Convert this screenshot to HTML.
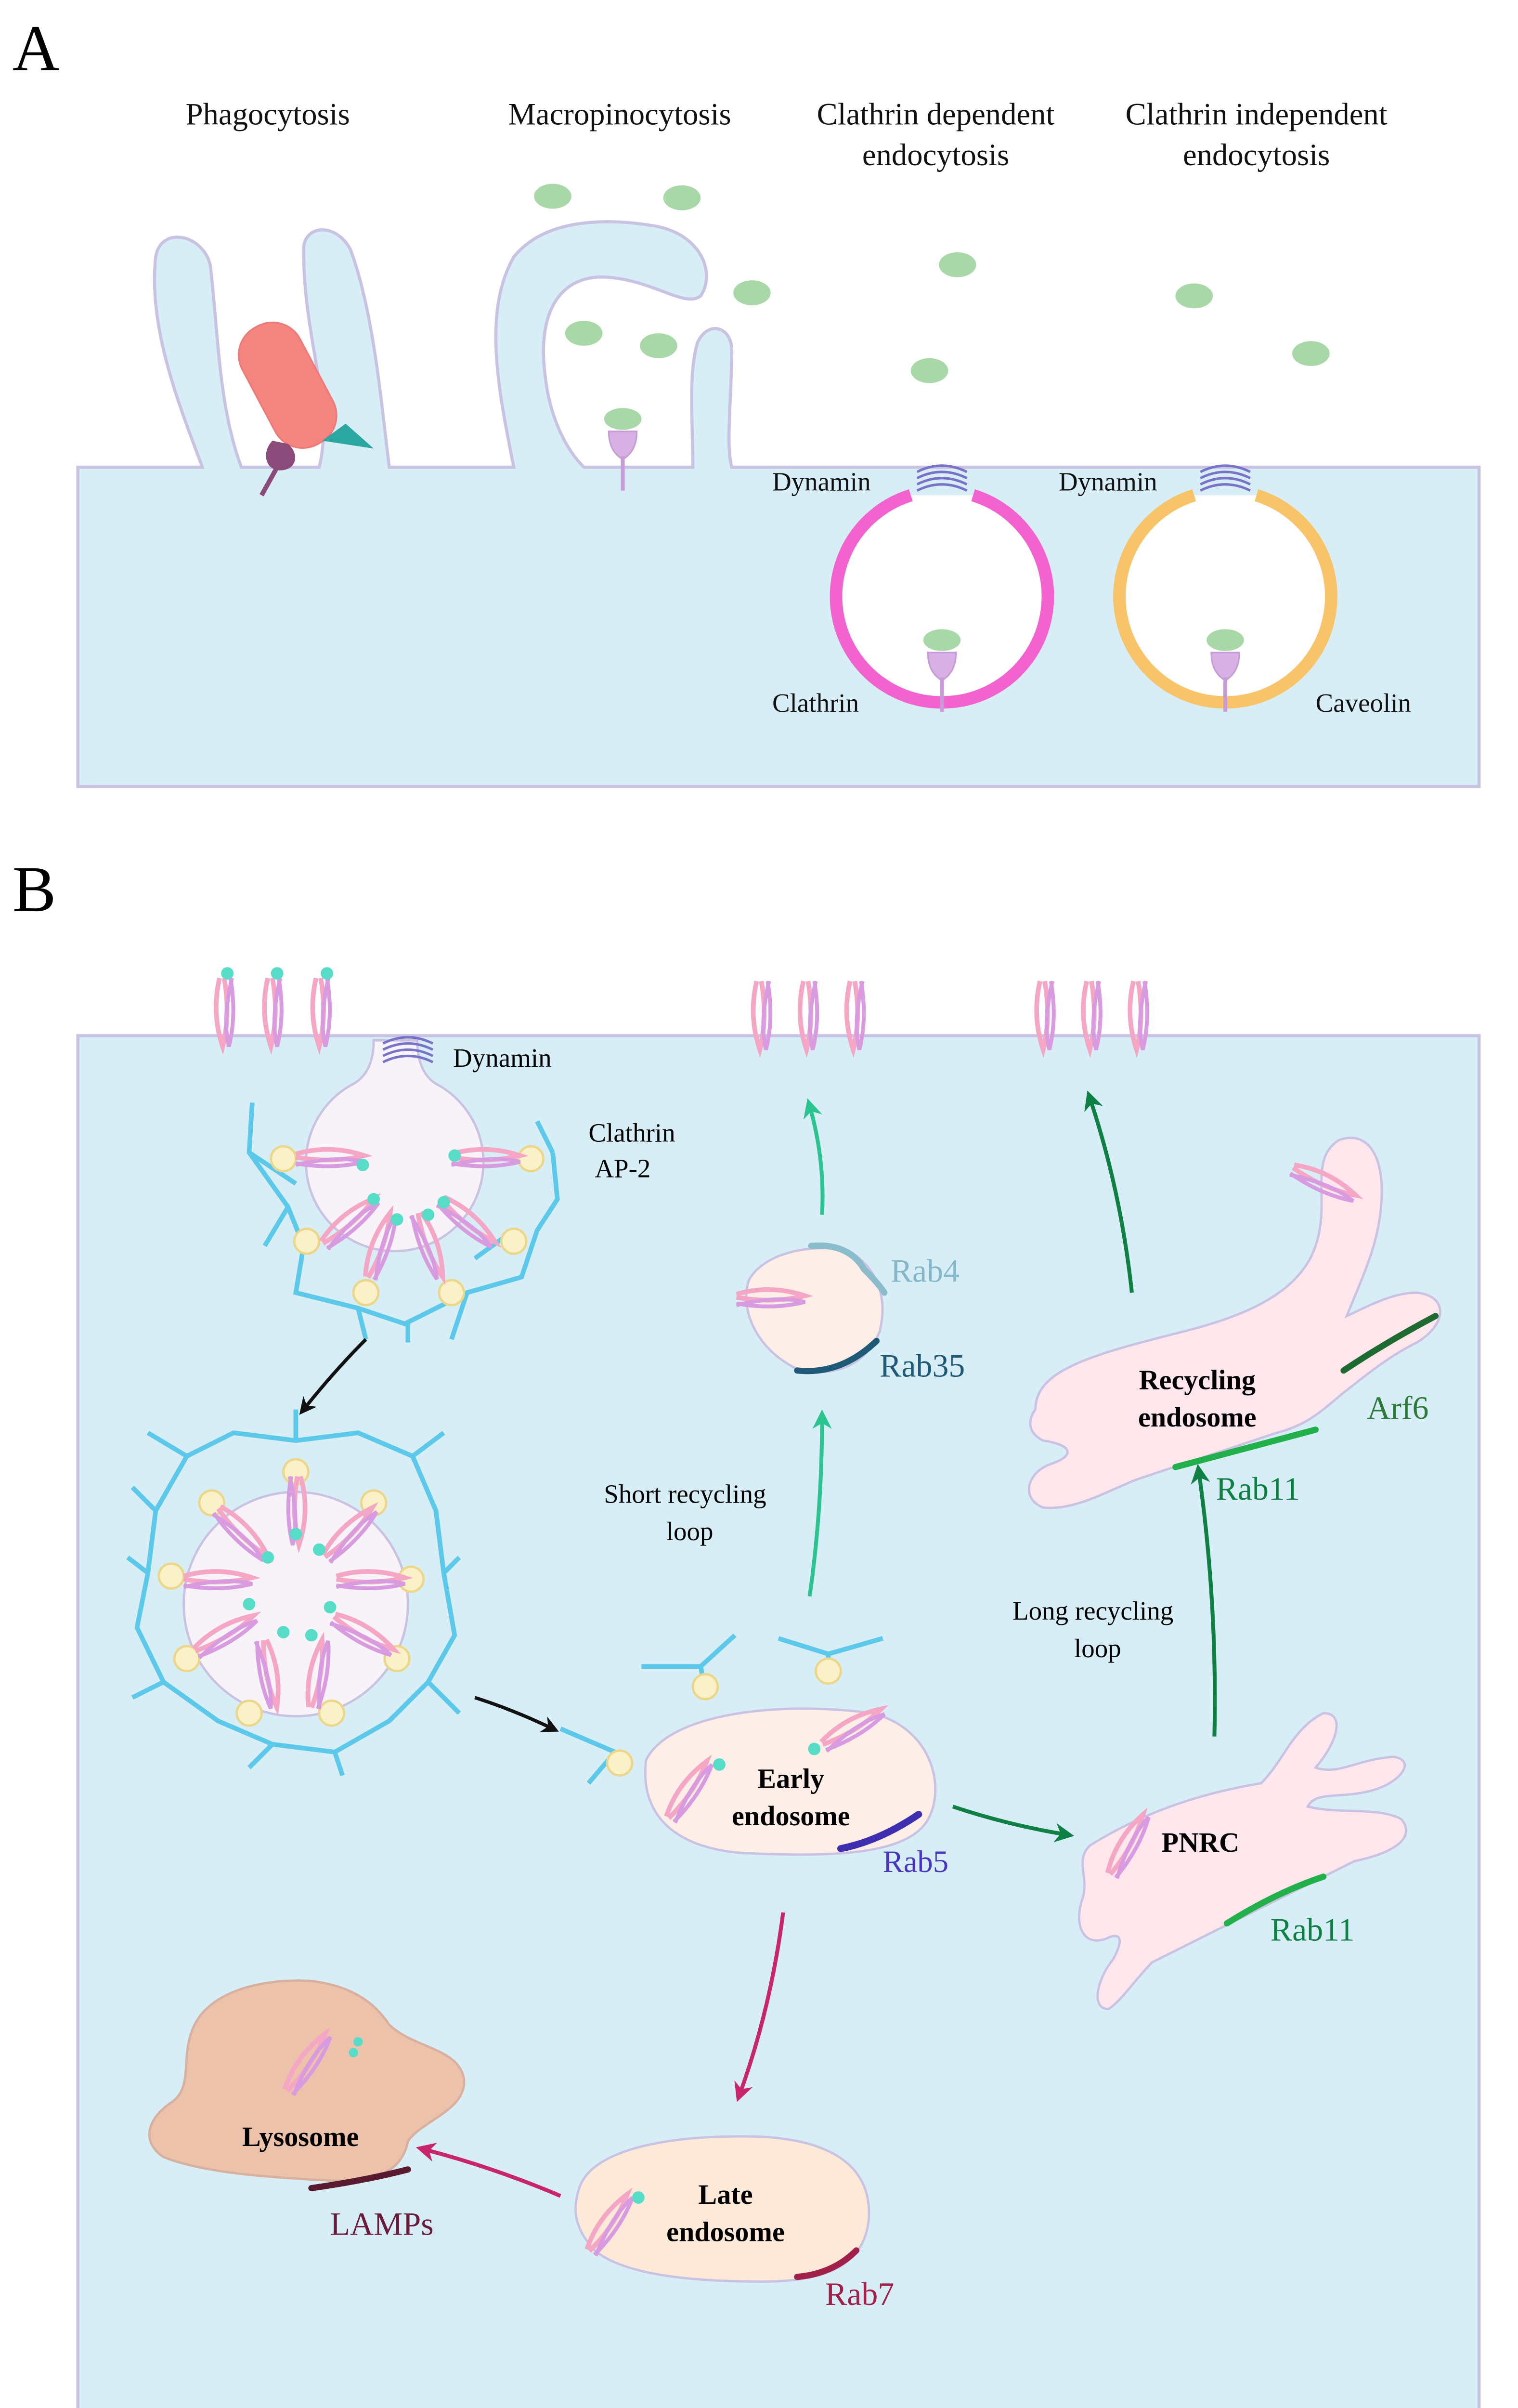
<!DOCTYPE html>
<html><head><meta charset="utf-8"><style>
html,body{margin:0;padding:0;background:#fff;width:3153px;height:5101px;overflow:hidden;}
svg{display:block;}
text{font-family:"Liberation Serif",serif;}
</style></head><body>
<svg width="3153" height="5101" viewBox="0 0 975 1577.4" xmlns="http://www.w3.org/2000/svg">
<defs>
<g id="rec">
 <path d="M-4,-22 C-8,-5 -6,10 -2,22 C1,10 2,-5 -1,-22" fill="none" stroke="#f4a6c4" stroke-width="3"/>
 <path d="M3,-22 C6,-5 5,10 2,22 C-1,10 0,-5 4,-22" fill="none" stroke="#d99be0" stroke-width="2.5"/>
</g>
<g id="recH">
 <path d="M-22,-3 C-5,-8 10,-6 22,-2 C10,1 -5,2 -22,-1" fill="none" stroke="#f4a6c4" stroke-width="3"/>
 <path d="M-22,3 C-5,6 10,5 22,2 C10,-1 -5,0 -22,4" fill="none" stroke="#d99be0" stroke-width="2.5"/>
</g>
<g id="lollipop">
 <ellipse cx="0" cy="-14" rx="12" ry="7" fill="#a8d8a8"/>
 <path d="M-9,-6 C-9,6 -3,10 0,12 C3,10 9,6 9,-6 Z" fill="#d7b1e3" stroke="#c79ad8" stroke-width="1"/>
 <line x1="0" y1="10" x2="0" y2="32" stroke="#c79ad8" stroke-width="2.5"/>
</g>
<g id="dyn">
 <path d="M-16,0 Q0,-8 16,0 M-16,4 Q0,-4 16,4 M-16,8 Q0,0 16,8 M-16,12 Q0,4 16,12" fill="none" stroke="#7a72c8" stroke-width="1.6"/>
</g>
<g id="ap"><circle r="8" fill="#fbf1c8" stroke="#ecd68a" stroke-width="1.5"/></g>
<marker id="ak" viewBox="0 0 10 10" refX="6" refY="5" markerWidth="5" markerHeight="5" orient="auto"><path d="M0,0 L10,5 L0,10 L3,5z" fill="#111"/></marker>
<marker id="at" viewBox="0 0 10 10" refX="6" refY="5" markerWidth="5" markerHeight="5" orient="auto"><path d="M0,0 L10,5 L0,10 L3,5z" fill="#2cc48e"/></marker>
<marker id="ag" viewBox="0 0 10 10" refX="6" refY="5" markerWidth="5" markerHeight="5" orient="auto"><path d="M0,0 L10,5 L0,10 L3,5z" fill="#0f8044"/></marker>
<marker id="am" viewBox="0 0 10 10" refX="6" refY="5" markerWidth="5" markerHeight="5" orient="auto"><path d="M0,0 L10,5 L0,10 L3,5z" fill="#c8256a"/></marker>
</defs>

<text x="8" y="45" font-size="42">A</text>
<g font-size="20" text-anchor="middle" fill="#111">
<text x="172" y="80">Phagocytosis</text>
<text x="398" y="80">Macropinocytosis</text>
<text x="601" y="80">Clathrin dependent</text>
<text x="601" y="106">endocytosis</text>
<text x="807" y="80">Clathrin independent</text>
<text x="807" y="106">endocytosis</text>
</g>
<path d="M50,300 H130 C115,260 95,210 100,165 C103,145 130,150 135,170 C140,210 140,260 155,300 H205 C215,260 195,220 195,160 C195,145 215,142 225,160 C240,200 245,260 250,300 H330 C320,250 310,200 330,165 C350,140 390,140 420,145 C450,150 460,175 450,190 C440,198 420,180 390,178 C360,176 345,200 350,240 C353,270 365,290 375,300 H445 C445,270 442,240 448,220 C455,205 470,210 470,225 C470,255 466,285 470,300 H950 V505 H50 Z" fill="#d8eef7" stroke="#c9c2e2" stroke-width="2"/>
<g transform="rotate(-28 185 250)"><rect x="165" y="205" width="42" height="85" rx="20" fill="#f4857e" stroke="#e77" stroke-width="1"/></g>
<path d="M175,283 C168,290 170,302 180,302 C190,302 193,292 185,285 Z" fill="#8a4a7a"/>
<line x1="178" y1="300" x2="168" y2="318" stroke="#8a4a7a" stroke-width="3"/>
<path d="M207,283 L240,288 L222,272 Z" fill="#2ca6a0"/>
<g fill="#a8d8a8">
<ellipse cx="355" cy="126" rx="12" ry="8"/><ellipse cx="438" cy="127" rx="12" ry="8"/>
<ellipse cx="483" cy="188" rx="12" ry="8"/><ellipse cx="375" cy="214" rx="12" ry="8"/>
<ellipse cx="423" cy="222" rx="12" ry="8"/><ellipse cx="615" cy="170" rx="12" ry="8"/>
<ellipse cx="597" cy="238" rx="12" ry="8"/><ellipse cx="767" cy="190" rx="12" ry="8"/>
<ellipse cx="842" cy="227" rx="12" ry="8"/>
</g>
<use href="#lollipop" x="400" y="283"/>
<path d="M625,318 A68,68 0 1 1 585,318" fill="#fff" stroke="#f263cf" stroke-width="8"/>
<use href="#dyn" x="605" y="303"/>
<use href="#lollipop" x="605" y="425"/>
<path d="M807,318 A68,68 0 1 1 767,318" fill="#fff" stroke="#f7c46a" stroke-width="8"/>
<use href="#dyn" x="787" y="303"/>
<use href="#lollipop" x="787" y="425"/>
<g font-size="17" fill="#111">
<text x="496" y="315">Dynamin</text><text x="680" y="315">Dynamin</text>
<text x="496" y="457">Clathrin</text><text x="845" y="457">Caveolin</text>
</g>

<text x="8" y="585" font-size="42">B</text>
<rect x="50" y="665" width="900" height="887" fill="#d8eef7" stroke="#c9c2e2" stroke-width="2"/>
<g>
<use href="#rec" x="145" y="650"/><use href="#rec" x="176" y="650"/><use href="#rec" x="207" y="650"/>
<circle cx="146" cy="625" r="4" fill="#57dcc8"/><circle cx="178" cy="625" r="4" fill="#57dcc8"/><circle cx="210" cy="625" r="4" fill="#57dcc8"/>
<use href="#rec" x="490" y="652"/><use href="#rec" x="520" y="652"/><use href="#rec" x="550" y="652"/>
<use href="#rec" x="672" y="652"/><use href="#rec" x="702" y="652"/><use href="#rec" x="732" y="652"/>
</g>
<path d="M240,668 Q240,690 225,697 A57,57 0 1 0 282,697 Q268,690 268,668 Z" fill="#f7f3f8" stroke="#c9c2e2" stroke-width="1.5"/>
<use href="#dyn" x="262" y="670"/>
<text x="291" y="685" font-size="17">Dynamin</text>
<text x="378" y="733" font-size="17">Clathrin</text>
<text x="382" y="756" font-size="17">AP-2</text>
<g fill="none" stroke="#5cc8ea" stroke-width="3">
<path d="M162,708 L160,740 L190,760 M160,740 L185,775 L195,800 L190,830 L230,840 L260,850 L300,830 L335,820 L345,790 L358,770 L355,740 M330,790 L305,808 M345,720 L355,740"/>
<path d="M185,775 L170,800 M230,840 L235,860 M300,830 L290,860 M262,850 L262,862"/>
</g>
<g>
<use href="#ap" x="182" y="744"/><use href="#ap" x="341" y="744"/><use href="#ap" x="197" y="797"/><use href="#ap" x="330" y="797"/>
<use href="#ap" x="235" y="830"/><use href="#ap" x="290" y="830"/>
<use href="#recH" x="212" y="744"/><use href="#recH" x="312" y="744"/>
<g transform="rotate(-40 225 785)"><use href="#recH" x="225" y="785"/></g>
<g transform="rotate(40 300 785)"><use href="#recH" x="300" y="785"/></g>
<g transform="rotate(-70 245 800)"><use href="#recH" x="245" y="800"/></g>
<g transform="rotate(70 275 800)"><use href="#recH" x="275" y="800"/></g>
<circle cx="233" cy="748" r="4" fill="#57dcc8"/><circle cx="292" cy="742" r="4" fill="#57dcc8"/>
<circle cx="255" cy="783" r="4" fill="#57dcc8"/><circle cx="275" cy="780" r="4" fill="#57dcc8"/>
<circle cx="240" cy="770" r="4" fill="#57dcc8"/><circle cx="285" cy="772" r="4" fill="#57dcc8"/>
</g>
<path d="M235,860 Q215,880 195,905" fill="none" stroke="#111" stroke-width="2.2" marker-end="url(#ak)"/>
<circle cx="190" cy="1030" r="72" fill="#f7f3f8" stroke="#c9c2e2" stroke-width="1.5"/>
<g fill="none" stroke="#5cc8ea" stroke-width="3">
<path d="M120,935 L150,920 L190,925 L230,920 L265,935 L280,970 L285,1010 L292,1050 L275,1080 L250,1105 L215,1125 L175,1120 L140,1105 L105,1080 L88,1045 L95,1010 L100,970 L120,935 Z"/>
<path d="M95,920 L120,935 M190,925 L190,905 M265,935 L285,920 M285,1010 L295,1000 M275,1080 L295,1100 M215,1125 L220,1140 M175,1120 L160,1135 M105,1080 L85,1090 M95,1010 L82,1000 M100,970 L85,955"/>
</g>
<g>
<use href="#ap" x="190" y="945"/><use href="#ap" x="240" y="965"/><use href="#ap" x="136" y="965"/>
<use href="#ap" x="264" y="1014"/><use href="#ap" x="110" y="1012"/><use href="#ap" x="255" y="1065"/>
<use href="#ap" x="120" y="1065"/><use href="#ap" x="213" y="1100"/><use href="#ap" x="160" y="1100"/>
<g transform="rotate(90 190 970)"><use href="#recH" x="190" y="970"/></g>
<g transform="rotate(45 155 985)"><use href="#recH" x="155" y="985"/></g>
<g transform="rotate(-45 225 985)"><use href="#recH" x="225" y="985"/></g>
<use href="#recH" x="140" y="1015"/><use href="#recH" x="238" y="1015"/>
<g transform="rotate(-30 145 1050)"><use href="#recH" x="145" y="1050"/></g>
<g transform="rotate(30 233 1050)"><use href="#recH" x="233" y="1050"/></g>
<g transform="rotate(80 172 1075)"><use href="#recH" x="172" y="1075"/></g>
<g transform="rotate(-80 205 1075)"><use href="#recH" x="205" y="1075"/></g>
<g fill="#57dcc8"><circle cx="172" cy="1000" r="4"/><circle cx="205" cy="995" r="4"/><circle cx="160" cy="1030" r="4"/><circle cx="212" cy="1032" r="4"/><circle cx="182" cy="1048" r="4"/><circle cx="200" cy="1050" r="4"/><circle cx="190" cy="985" r="4"/></g>
</g>
<path d="M305,1090 Q330,1098 355,1110" fill="none" stroke="#111" stroke-width="2.2" marker-end="url(#ak)"/>
<g fill="none" stroke="#5cc8ea" stroke-width="3">
<path d="M412,1070 L450,1070 L472,1050 M450,1070 L452,1080"/>
<path d="M500,1052 L532,1062 L567,1052 M532,1062 L532,1070"/>
<path d="M360,1110 L395,1125 L378,1145 M395,1125 L397,1130"/>
</g>
<use href="#ap" x="453" y="1083"/><use href="#ap" x="532" y="1073"/><use href="#ap" x="398" y="1132"/>
<path d="M415,1130 C430,1100 500,1092 560,1100 C600,1110 608,1150 595,1170 C580,1192 530,1192 480,1190 C440,1188 410,1170 415,1130 Z" fill="#fdeee8" stroke="#c9c2e2" stroke-width="1.5"/>
<path d="M540,1187 Q565,1182 590,1165" fill="none" stroke="#3d2fb0" stroke-width="4.5" stroke-linecap="round"/>
<text x="567" y="1202" font-size="20" fill="#4a35c0">Rab5</text>
<text x="508" y="1148" font-size="18" font-weight="bold" text-anchor="middle">Early</text>
<text x="508" y="1172" font-size="18" font-weight="bold" text-anchor="middle">endosome</text>
<g transform="rotate(-55 443 1150)"><use href="#recH" x="443" y="1150"/></g>
<g transform="rotate(-30 548 1110)"><use href="#recH" x="548" y="1110"/></g>
<circle cx="462" cy="1133" r="4" fill="#57dcc8"/><circle cx="523" cy="1123" r="4" fill="#57dcc8"/>
<path d="M520,1025 Q528,970 528,910" fill="none" stroke="#2cc48e" stroke-width="2.5" marker-end="url(#at)"/>
<text x="440" y="965" font-size="17" text-anchor="middle">Short recycling</text>
<text x="443" y="989" font-size="17" text-anchor="middle">loop</text>
<path d="M481,822 C490,805 520,798 545,803 C565,815 570,835 565,855 C555,880 530,885 510,878 C485,865 475,840 481,822 Z" fill="#fdeee8" stroke="#c9c2e2" stroke-width="1.5"/>
<path d="M521,800 Q545,798 555,815 Q565,825 568,830" fill="none" stroke="#8abccc" stroke-width="4" stroke-linecap="round"/>
<path d="M512,880 Q540,883 563,861" fill="none" stroke="#1e5a78" stroke-width="4" stroke-linecap="round"/>
<text x="572" y="823" font-size="21" fill="#84b8c8">Rab4</text>
<text x="565" y="884" font-size="21" fill="#1e5a78">Rab35</text>
<use href="#recH" x="495" y="834"/>
<path d="M528,780 Q530,745 520,710" fill="none" stroke="#2cc48e" stroke-width="2.5" marker-end="url(#at)"/>
<path d="M612,1160 Q648,1172 685,1178" fill="none" stroke="#0f8044" stroke-width="2.5" marker-end="url(#ag)"/>
<path d="M700,1185 C740,1160 780,1150 810,1145 C825,1130 830,1110 850,1100 C865,1100 858,1120 845,1135 C860,1140 870,1130 895,1128 C910,1130 900,1145 880,1150 C860,1155 845,1150 840,1160 C860,1165 885,1160 900,1168 C910,1180 895,1190 870,1195 C850,1205 830,1215 800,1230 C780,1240 760,1250 740,1260 C730,1270 720,1285 712,1290 C700,1290 705,1270 715,1258 C722,1245 720,1240 710,1245 C695,1250 690,1235 695,1220 C700,1205 690,1195 700,1185 Z" fill="#fde6ec" stroke="#c9c2e2" stroke-width="1.5"/>
<path d="M788,1235 Q820,1215 850,1205" fill="none" stroke="#22b04a" stroke-width="4" stroke-linecap="round"/>
<text x="771" y="1189" font-size="18" font-weight="bold" text-anchor="middle">PNRC</text>
<text x="816" y="1246" font-size="21" fill="#0f8044">Rab11</text>
<g transform="rotate(-60 725 1185)"><use href="#recH" x="725" y="1185"/></g>
<path d="M780,1115 Q782,1030 770,945" fill="none" stroke="#0f8044" stroke-width="2.5" marker-end="url(#ag)"/>
<text x="702" y="1040" font-size="17" text-anchor="middle">Long recycling</text>
<text x="705" y="1064" font-size="17" text-anchor="middle">loop</text>
<path d="M665,905 C665,880 700,870 760,855 C800,845 835,830 845,800 C855,770 840,745 860,732 C880,725 890,745 887,775 C885,800 875,820 865,845 C880,838 895,830 910,830 C930,832 930,850 910,862 C890,872 875,885 862,895 C850,905 840,915 820,920 C790,930 760,940 730,950 C710,958 690,970 670,968 C655,962 660,945 675,940 C690,935 690,928 670,925 C660,920 660,912 665,905 Z" fill="#fde6ec" stroke="#c9c2e2" stroke-width="1.5"/>
<path d="M755,942 Q800,930 845,918" fill="none" stroke="#22b04a" stroke-width="4" stroke-linecap="round"/>
<path d="M863,880 Q890,862 922,845" fill="none" stroke="#1f6a30" stroke-width="4" stroke-linecap="round"/>
<text x="769" y="892" font-size="18" font-weight="bold" text-anchor="middle">Recycling</text>
<text x="769" y="916" font-size="18" font-weight="bold" text-anchor="middle">endosome</text>
<text x="781" y="963" font-size="21" fill="#0f8044">Rab11</text>
<text x="878" y="911" font-size="21" fill="#2e7a3a">Arf6</text>
<g transform="rotate(25 850 760)"><use href="#recH" x="850" y="760"/></g>
<path d="M727,830 Q720,765 700,705" fill="none" stroke="#0f8044" stroke-width="2.5" marker-end="url(#ag)"/>
<path d="M503,1228 Q495,1290 475,1345" fill="none" stroke="#c8256a" stroke-width="2.5" marker-end="url(#am)"/>
<path d="M372,1405 C380,1380 430,1370 490,1372 C540,1375 560,1395 558,1425 C555,1455 530,1465 490,1465 C440,1465 400,1460 382,1445 C368,1430 368,1418 372,1405 Z" fill="#fde9d8" stroke="#c9c2e2" stroke-width="1.5"/>
<path d="M512,1462 Q535,1460 550,1445" fill="none" stroke="#a0204a" stroke-width="4" stroke-linecap="round"/>
<text x="466" y="1415" font-size="18" font-weight="bold" text-anchor="middle">Late</text>
<text x="466" y="1439" font-size="18" font-weight="bold" text-anchor="middle">endosome</text>
<text x="530" y="1480" font-size="21" fill="#a0204a">Rab7</text>
<g transform="rotate(-55 392 1428)"><use href="#recH" x="392" y="1428"/></g>
<circle cx="410" cy="1411" r="4" fill="#57dcc8"/>
<path d="M360,1410 Q318,1392 272,1380" fill="none" stroke="#c8256a" stroke-width="2.5" marker-end="url(#am)"/>
<path d="M125,1300 C135,1280 165,1270 200,1272 C225,1275 240,1285 250,1300 C265,1315 295,1315 298,1335 C300,1355 270,1362 262,1375 C258,1395 240,1402 210,1400 C170,1398 130,1395 105,1385 C90,1375 95,1360 110,1350 C125,1340 115,1320 125,1300 Z" fill="#ecc2aa" stroke="#d8b0a0" stroke-width="1.5"/>
<path d="M200,1405 Q235,1400 262,1393" fill="none" stroke="#5a1a30" stroke-width="4" stroke-linecap="round"/>
<text x="193" y="1378" font-size="18" font-weight="bold" text-anchor="middle">Lysosome</text>
<text x="212" y="1435" font-size="21" fill="#6a1a3a">LAMPs</text>
<g transform="rotate(-55 198 1325)"><use href="#recH" x="198" y="1325"/></g>
<circle cx="227" cy="1318" r="3" fill="#57dcc8"/><circle cx="230" cy="1311" r="3" fill="#57dcc8"/>
</svg>
</body></html>
